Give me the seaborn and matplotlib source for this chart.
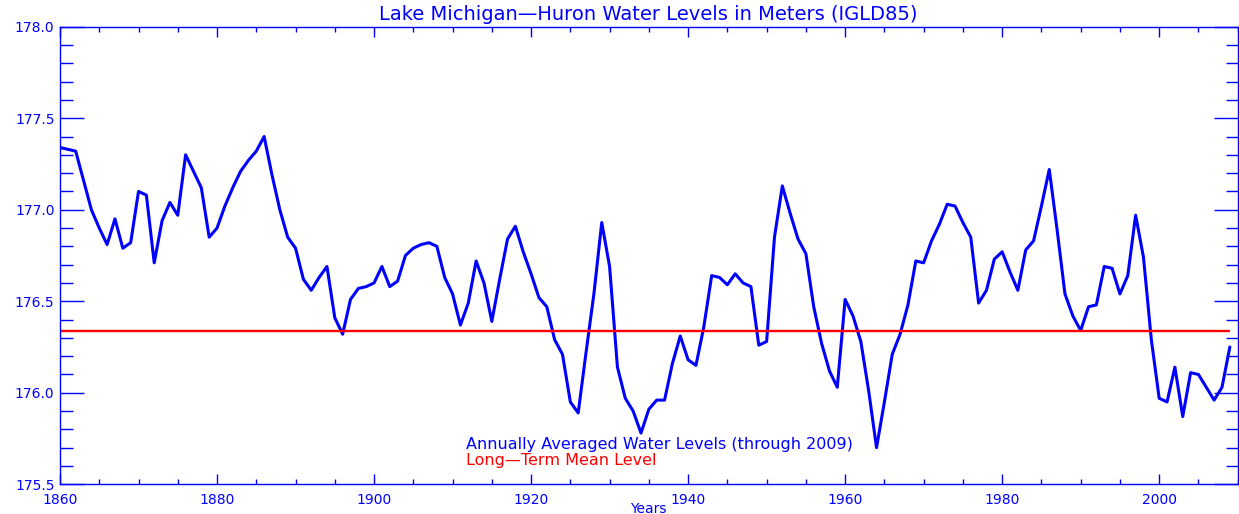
import seaborn as sns
import matplotlib.pyplot as plt
from matplotlib.ticker import MultipleLocator, FormatStrFormatter

# annual mean water level, Lake Michigan-Huron (m, IGLD85)
years = list(range(1860, 2010))
levels = [
    177.34, 177.33, 177.32, 177.16, 177.00, 176.90, 176.81, 176.95, 176.79, 176.82,  # 1860s
    177.10, 177.08, 176.71, 176.94, 177.04, 176.97, 177.30, 177.21, 177.12, 176.85,  # 1870s
    176.90, 177.02, 177.12, 177.21, 177.27, 177.32, 177.40, 177.19, 177.00, 176.85,  # 1880s
    176.79, 176.62, 176.56, 176.63, 176.69, 176.41, 176.32, 176.51, 176.57, 176.58,  # 1890s
    176.60, 176.69, 176.58, 176.61, 176.75, 176.79, 176.81, 176.82, 176.80, 176.63,  # 1900s
    176.54, 176.37, 176.49, 176.72, 176.60, 176.39, 176.62, 176.84, 176.91, 176.77,  # 1910s
    176.65, 176.52, 176.47, 176.29, 176.21, 175.95, 175.89, 176.22, 176.54, 176.93,  # 1920s
    176.69, 176.14, 175.97, 175.90, 175.78, 175.91, 175.96, 175.96, 176.16, 176.31,  # 1930s
    176.18, 176.15, 176.36, 176.64, 176.63, 176.59, 176.65, 176.60, 176.58, 176.26,  # 1940s
    176.28, 176.85, 177.13, 176.98, 176.84, 176.76, 176.47, 176.27, 176.12, 176.03,  # 1950s
    176.51, 176.42, 176.28, 176.01, 175.70, 175.95, 176.21, 176.32, 176.48, 176.72,  # 1960s
    176.71, 176.83, 176.92, 177.03, 177.02, 176.93, 176.85, 176.49, 176.56, 176.73,  # 1970s
    176.77, 176.66, 176.56, 176.78, 176.83, 177.02, 177.22, 176.89, 176.54, 176.42,  # 1980s
    176.34, 176.47, 176.48, 176.69, 176.68, 176.54, 176.64, 176.97, 176.74, 176.29,  # 1990s
    175.97, 175.95, 176.14, 175.87, 176.11, 176.10, 176.03, 175.96, 176.03, 176.25,  # 2000s
]
mean_level = 176.34

title = 'Lake Michigan\u2014Huron Water Levels in Meters (IGLD85)'
series_label = 'Annually Averaged Water Levels (through 2009)'
mean_label = 'Long\u2014Term Mean Level'

sns.set_style('white')
plt.rcParams['font.family'] = ['DejaVu Sans']

fig = plt.figure(figsize=(12.39, 5.14), dpi=100)
ax = fig.add_axes([60 / 1239, 1 - 484.3 / 514, 1177.7 / 1239, 457.6 / 514])

sns.lineplot(x=years, y=levels, color='blue', linewidth=2.2, ax=ax)
ax.hlines(mean_level, years[0], years[-1], color='red', linewidth=1.7)

ax.set_xlim(1860, 2010)
ax.set_ylim(175.5, 178.0)
ax.xaxis.set_major_locator(MultipleLocator(20))
ax.xaxis.set_minor_locator(MultipleLocator(5))
ax.yaxis.set_major_locator(MultipleLocator(0.5))
ax.yaxis.set_minor_locator(MultipleLocator(0.1))
ax.yaxis.set_major_formatter(FormatStrFormatter('%.1f'))

ax.tick_params(which='both', direction='in', left=True, bottom=True,
               top=True, right=True, colors='blue', width=1, labelsize=10)
ax.tick_params(axis='x', which='major', length=7, pad=6)
ax.tick_params(axis='x', which='minor', length=3.5)
ax.tick_params(axis='y', which='major', length=17, pad=4)
ax.tick_params(axis='y', which='minor', length=9)
for sp in ax.spines.values():
    sp.set_color('blue')
    sp.set_linewidth(1)

fig.text(648 / 1239, 1 - 14 / 514, title, ha='center', va='center',
         color='blue', fontsize=14)
fig.text(648 / 1239, 1 - 513 / 514, 'Years', ha='center', va='baseline',
         color='blue', fontsize=10)

ax.text(0.345, 0.086, series_label, transform=ax.transAxes,
        color='blue', fontsize=11.5, va='center')
ax.text(0.345, 0.051, mean_label, transform=ax.transAxes,
        color='red', fontsize=11.5, va='center')

fig.savefig('out.png', dpi=100)
